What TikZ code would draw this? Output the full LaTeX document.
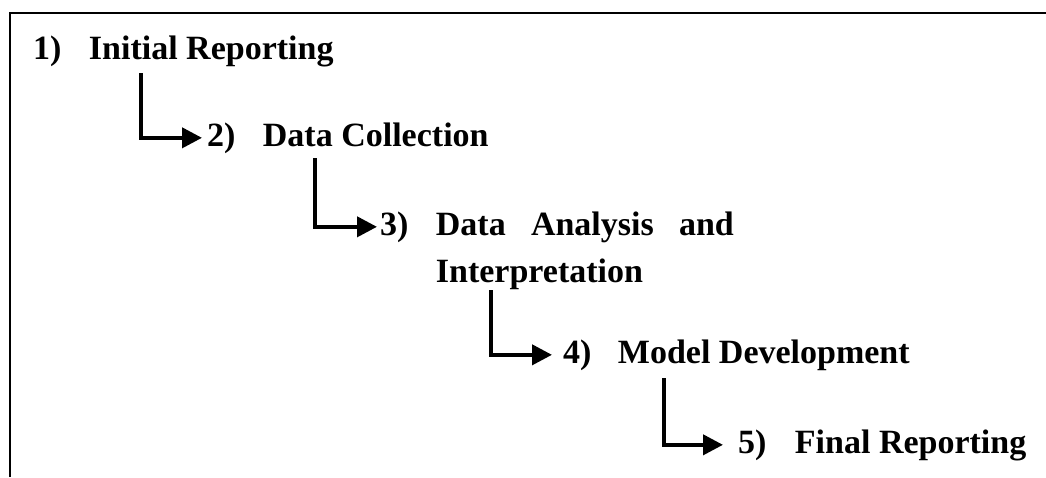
\documentclass[tikz,border=0pt]{standalone}
\usepackage{fontspec}
\setmainfont{Liberation Serif}
\usetikzlibrary{positioning,arrows.meta}

\begin{document}
\begin{tikzpicture}[x=1pt,y=-1pt,
  num/.style={inner sep=0pt,anchor=base west,font=\fontsize{34}{47}\selectfont\bfseries},
  lbl/.style={inner sep=0pt,font=\fontsize{34}{47}\selectfont\bfseries},
  flow/.style={line width=4pt,-{Triangle[length=20pt,width=20pt]}},
  frame/.style={line width=2.2pt}]
\useasboundingbox (0,0) rectangle (1046,477);
\draw[frame] (10,477) -- (10,13) -- (1046,13);

\node[num] (n1) at (33,59) {1)};
\node[lbl,base right=27pt of n1] (t1) {Initial Reporting};
\node[num] (n2) at (207,146) {2)};
\node[lbl,base right=27pt of n2] (t2) {Data Collection};
\node[num] (n3) at (380,235) {3)};
\node[lbl,base right=27pt of n3,text width=298pt,align=left] (t3) {Data\hfill Analysis\hfill and\\Interpretation};
\node[num] (n4) at (563,363) {4)};
\node[lbl,base right=26pt of n4] (t4) {Model Development};
\node[num] (n5) at (738,453) {5)};
\node[lbl,base right=28pt of n5] (t5) {Final Reporting};

\draw[flow,shorten >=5pt] ([xshift=52pt,yshift=-14pt]t1.base west) |- (n2);
\draw[flow,shorten >=3pt] ([xshift=52pt,yshift=-12pt]t2.base west) |- (n3);
\draw[flow,shorten >=11pt] ([xshift=55pt,yshift=-55pt]t3.base west) |- (n4);
\draw[flow,shorten >=15pt] ([xshift=46pt,yshift=-15pt]t4.base west) |- (n5);
\end{tikzpicture}
\end{document}
